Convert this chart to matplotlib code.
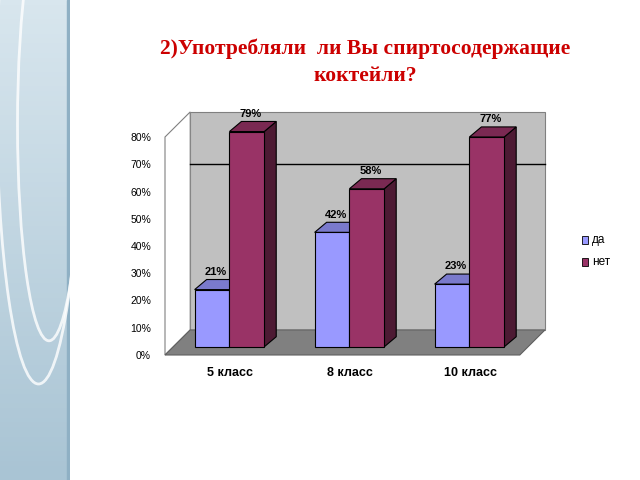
import matplotlib
matplotlib.use("Agg")
import matplotlib.pyplot as plt
import numpy as np
from matplotlib.patches import Polygon, Circle, Rectangle

categories = ["5 класс", "8 класс", "10 класс"]
da = [0.21, 0.42, 0.23]
net = [0.79, 0.58, 0.77]
yticks = [0, 0.1, 0.2, 0.3, 0.4, 0.5, 0.6, 0.7, 0.8]
title = "2)Употребляли  ли Вы спиртосодержащие\nкоктейли?"

fig = plt.figure(figsize=(6.4, 4.8), dpi=100)
fig.patch.set_facecolor("white")

dec = fig.add_axes([0, 0, 70/640, 1])
grad = np.linspace(0, 1, 100).reshape(-1, 1)
dec.imshow(grad, extent=[0, 1, 0, 1], aspect="auto", cmap=matplotlib.colors.LinearSegmentedColormap.from_list("g", ["#d8e6ee", "#a9c4d4"]))
dec.add_patch(Rectangle((0.96, 0), 0.04, 1, color="#8fb0c4"))
for (cx, cy, r) in [(0.55, 0.8, 0.6), (0.7, 0.74, 0.45)]:
    dec.add_patch(Circle((cx, cy), r, fill=False, ec="white", lw=2, alpha=0.8))
dec.set_xlim(0, 1); dec.set_ylim(0, 1); dec.axis("off")

fig.text(365/640, 1-62/480, title, ha="center", va="center", color="#cc0000",
         fontsize=15.5, fontweight="bold", family="Liberation Serif", linespacing=1.45)

ax = fig.add_axes([165/640, (480-355)/480, 380/640, 218/480])
ax.set_xlim(-0.542, 2.625)
ax.set_ylim(0, 0.8)
for s in ax.spines.values():
    s.set_visible(False)
ax.set_xticks([])
ax.set_yticks(yticks)
ax.set_yticklabels([f"{int(round(v*100))}%" for v in yticks], fontsize=7.5, family="Liberation Sans")
ax.tick_params(axis="y", length=0, pad=10)

bx, by = 0.21, 0.092
x0, x1 = -0.542, 2.625 - bx
ax.add_patch(Polygon([[x0+bx, by], [x1+bx, by], [x1+bx, 0.8+by], [x0+bx, 0.8+by]],
                     closed=True, fc="#c0c0c0", ec="#808080", lw=0.8, clip_on=False))
ax.add_patch(Polygon([[x0, 0], [x0+bx, by], [x0+bx, 0.8+by], [x0, 0.8]],
                     closed=True, fc="white", ec="#808080", lw=0.8, clip_on=False))
ax.add_patch(Polygon([[x0, 0], [x1, 0], [x1+bx, by], [x0+bx, by]],
                     closed=True, fc="#808080", ec="#606060", lw=0.8, clip_on=False))
ax.plot([x0+bx, x1+bx], [0.7, 0.7], color="black", lw=1, clip_on=False)

w = 0.29
dx, dy = 0.1, 0.037
base = 0.03
def bar3d(xl, h, front, side, top):
    b = base
    ax.add_patch(Polygon([[xl+w, b], [xl+w+dx, b+dy], [xl+w+dx, b+h+dy], [xl+w, b+h]],
                         fc=side, ec="black", lw=0.8, clip_on=False, zorder=3))
    ax.add_patch(Polygon([[xl, b+h], [xl+w, b+h], [xl+w+dx, b+h+dy], [xl+dx, b+h+dy]],
                         fc=top, ec="black", lw=0.8, clip_on=False, zorder=3))
    ax.add_patch(Rectangle((xl, b), w, h, fc=front, ec="black", lw=0.8, clip_on=False, zorder=4))

for i in range(len(categories)):
    gx = i - 0.005
    bar3d(gx - w, da[i], "#9999ff", "#4d4d80", "#7a7acc")
    bar3d(gx, net[i], "#993366", "#4d1a33", "#7a2952")
    ax.text(gx - w/2 + 0.03, base + da[i] + dy + 0.01, f"{int(round(da[i]*100))}%", ha="center", va="bottom",
            fontsize=8, fontweight="bold", family="Liberation Sans", zorder=5)
    ax.text(gx + w/2 + 0.03, base + net[i] + dy + 0.01, f"{int(round(net[i]*100))}%", ha="center", va="bottom",
            fontsize=8, fontweight="bold", family="Liberation Sans", zorder=5)
    ax.text(i, -0.065, categories[i], ha="center", va="center", fontsize=9,
            fontweight="bold", family="Liberation Sans")

for j, (lab, col) in enumerate([("да", "#9999ff"), ("нет", "#993366")]):
    yy = 1 - (240 + j*22)/480
    fig.patches.append(Rectangle((582/640, yy-0.008), 6/640, 0.016, fc=col, ec="black", lw=0.6,
                                 transform=fig.transFigure, figure=fig))
    fig.text(592/640, yy, lab, fontsize=8.5, va="center", family="Liberation Sans")

fig.savefig("out.png", dpi=100)
